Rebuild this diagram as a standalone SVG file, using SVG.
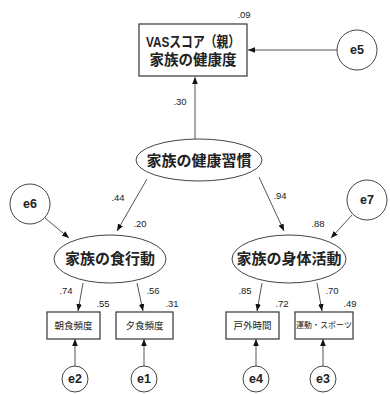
<svg xmlns="http://www.w3.org/2000/svg" width="390" height="394" viewBox="0 0 390 394">
<defs>
<marker id="ah" viewBox="0 0 10 10" refX="10" refY="5" markerWidth="7" markerHeight="7" orient="auto" markerUnits="userSpaceOnUse"><path d="M0,1 L10,5 L0,9 z" fill="#111"/></marker>
</defs>
<style>
.bg{fill:#fff}
.shape{fill:#fff;stroke:#444;stroke-width:1}
.box{fill:#fff;stroke:#444;stroke-width:1.3}
.c{stroke:#555;stroke-width:1;fill:none;marker-end:url(#ah)}
text{font-family:"Liberation Sans","Noto Sans CJK JP",sans-serif;fill:#222}
.lab{font-size:15px;text-anchor:middle;dominant-baseline:central;font-weight:bold}
.big{font-size:14.5px;text-anchor:middle;dominant-baseline:central;font-weight:bold}
.sm{font-size:9.5px;text-anchor:middle;dominant-baseline:central}
.xs{font-size:8px;text-anchor:middle;dominant-baseline:central}
.e{font-size:12.5px;text-anchor:middle;dominant-baseline:central;font-weight:bold}
.n{font-size:9.5px;text-anchor:middle;dominant-baseline:central}
</style>
<rect class="bg" width="390" height="394"/>
<g id="connectors">
<line class="c" x1="195" y1="139" x2="195" y2="77"/>
<line class="c" x1="337" y1="50" x2="248" y2="50"/>
<line class="c" x1="147" y1="179" x2="117" y2="231"/>
<line class="c" x1="259" y1="177" x2="284" y2="231"/>
<line class="c" x1="45" y1="218" x2="69" y2="238"/>
<line class="c" x1="352" y1="215" x2="331" y2="238"/>
<line class="c" x1="83" y1="283" x2="78" y2="311"/>
<line class="c" x1="137" y1="283" x2="143" y2="311"/>
<line class="c" x1="262" y1="283" x2="257" y2="311"/>
<line class="c" x1="317" y1="283" x2="322" y2="311"/>
<line class="c" x1="75" y1="366" x2="75" y2="339"/>
<line class="c" x1="144" y1="366" x2="144" y2="339"/>
<line class="c" x1="256" y1="366" x2="256" y2="339"/>
<line class="c" x1="323" y1="366" x2="323" y2="339"/>
</g>
<g id="labels">
<text class="n" x="180" y="101">.30</text>
<text class="n" x="118" y="197">.44</text>
<text class="n" x="140" y="223">.20</text>
<text class="n" x="280" y="195">.94</text>
<text class="n" x="318" y="223">.88</text>
<text class="n" x="66" y="290">.74</text>
<text class="n" x="103" y="303">.55</text>
<text class="n" x="153" y="290">.56</text>
<text class="n" x="172" y="303">.31</text>
<text class="n" x="245" y="290">.85</text>
<text class="n" x="282" y="303">.72</text>
<text class="n" x="332" y="290">.70</text>
<text class="n" x="350" y="303">.49</text>
<text class="n" x="244" y="14">.09</text>
</g>
<g id="vas">
<rect class="box" x="139" y="24" width="108" height="52"/>
<text class="big" x="193" y="42" textLength="94" lengthAdjust="spacingAndGlyphs">VASスコア（親）</text>
<text class="big" x="193" y="60">家族の健康度</text>
</g>
<g id="e5"><circle class="shape" cx="357" cy="50" r="20"/><text class="e" x="357" y="50">e5</text></g>
<g id="habit"><ellipse class="shape" cx="199" cy="160" rx="63" ry="21"/><text class="lab" x="199" y="160">家族の健康習慣</text></g>
<g id="e6"><circle class="shape" cx="30" cy="204" r="20"/><text class="e" x="30" y="204">e6</text></g>
<g id="e7"><circle class="shape" cx="367" cy="200" r="20"/><text class="e" x="367" y="200">e7</text></g>
<g id="diet"><ellipse class="shape" cx="110" cy="259" rx="56" ry="24"/><text class="lab" x="110" y="258">家族の食行動</text></g>
<g id="activity"><ellipse class="shape" cx="289" cy="259" rx="57" ry="24"/><text class="lab" x="289" y="258">家族の身体活動</text></g>
<g id="breakfast"><rect class="box" x="47" y="312" width="53" height="27"/><text class="sm" x="73.5" y="325.5">朝食頻度</text></g>
<g id="dinner"><rect class="box" x="116" y="312" width="57" height="27"/><text class="sm" x="144.5" y="325.5">夕食頻度</text></g>
<g id="outdoor"><rect class="box" x="226" y="312" width="53" height="27"/><text class="sm" x="252.5" y="325.5">戸外時間</text></g>
<g id="sports"><rect class="box" x="295" y="312" width="58" height="27"/><text class="xs" x="324" y="325.5">運動・スポーツ</text></g>
<g id="e2"><circle class="shape" cx="75" cy="379" r="13"/><text class="e" x="75" y="379">e2</text></g>
<g id="e1"><circle class="shape" cx="144" cy="379" r="13"/><text class="e" x="144" y="379">e1</text></g>
<g id="e4"><circle class="shape" cx="256" cy="379" r="13"/><text class="e" x="256" y="379">e4</text></g>
<g id="e3"><circle class="shape" cx="323" cy="379" r="13"/><text class="e" x="323" y="379">e3</text></g>
</svg>
